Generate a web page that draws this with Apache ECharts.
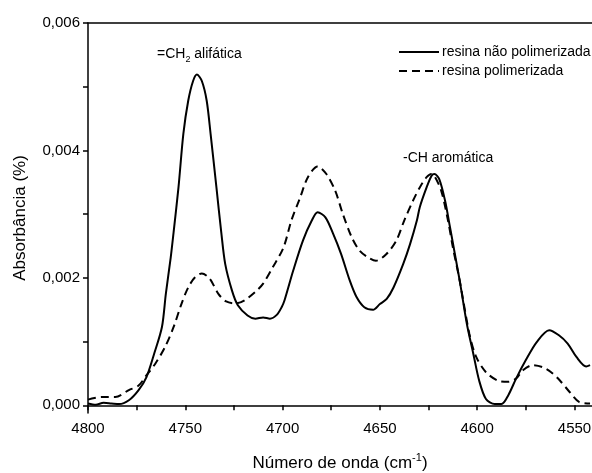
<!DOCTYPE html>
<html>
<head>
<meta charset="utf-8">
<script src="https://cdn.jsdelivr.net/npm/echarts@6/dist/echarts.min.js"></script>
<style>
  html, body { margin: 0; padding: 0; background: #fff; }
  #chart { width: 592px; height: 473px; }
</style>
</head>
<body>
<div id="chart"></div>
<script>
// resina não polimerizada (linha cheia)
const waveA = [4800, 4796, 4792, 4788, 4784, 4779, 4774, 4770, 4766, 4762,
    4760, 4757.5, 4756, 4753.5, 4751, 4748.5, 4746, 4744, 4741.5, 4739,
    4737, 4734, 4731.5, 4729.5, 4726, 4723, 4718, 4714, 4710, 4706.5,
    4703, 4700.5, 4699, 4694.5, 4689.5, 4685, 4682, 4678, 4674, 4670,
    4665.5, 4662, 4658, 4653.5, 4650, 4646.5, 4643, 4638, 4634.5, 4631,
    4629.5, 4626, 4623.5, 4622, 4619.5, 4616.5, 4614, 4611.5, 4609, 4606.5,
    4605, 4602, 4599, 4595.5, 4591, 4587.5, 4584, 4580, 4575, 4569.5,
    4563, 4558, 4553.5, 4549, 4544, 4542]
const absA = [0.00003, 0.00001, 0.00004, 0.00003, 0.00002, 0.00008, 0.00024, 0.00044, 0.00081, 0.00123,
    0.00175, 0.00232, 0.00272, 0.00342, 0.00426, 0.00478, 0.00509, 0.00519, 0.00509, 0.00478,
    0.00426, 0.00342, 0.00271, 0.00222, 0.0018, 0.00157, 0.00141, 0.00136, 0.00138, 0.00136,
    0.00142, 0.00154, 0.00165, 0.00212, 0.00259, 0.0029, 0.00303, 0.00295, 0.00269, 0.00238,
    0.00196, 0.0017, 0.00154, 0.0015, 0.00159, 0.00167, 0.00185, 0.00222, 0.00253, 0.0029,
    0.00311, 0.00342, 0.0036, 0.00363, 0.00355, 0.00321, 0.0028, 0.00238, 0.00196, 0.00149,
    0.00123, 0.00081, 0.00039, 0.0001, 0.00002, 0.00002, 0.00016, 0.00042, 0.00071, 0.00099,
    0.00118, 0.0011, 0.00097, 0.00076, 0.00061, 0.00063]

// resina polimerizada (tracejada)
const waveB = [4800, 4793, 4786, 4779, 4774, 4770, 4765.5, 4760.5, 4756, 4752,
    4748.5, 4745, 4741.5, 4737.5, 4733, 4729, 4724, 4719.5, 4714, 4710,
    4705, 4699.5, 4695.5, 4691, 4687, 4682, 4677.5, 4673, 4669, 4664.5,
    4660.5, 4656, 4652, 4646.5, 4641.5, 4637.5, 4633, 4629.5, 4626, 4623.5,
    4622, 4618.5, 4615, 4612.5, 4609, 4604, 4600.5, 4595.5, 4589.5, 4584,
    4580, 4576.5, 4571.5, 4566.5, 4562, 4557.5, 4552.5, 4547.5, 4542]
const absB = [0.00009, 0.00013, 0.00013, 0.00024, 0.00031, 0.00047, 0.00065, 0.00091, 0.00123, 0.00159,
    0.00185, 0.00201, 0.00207, 0.00199, 0.00175, 0.00163, 0.0016, 0.00165, 0.00178, 0.00191,
    0.00217, 0.00248, 0.0029, 0.00326, 0.00358, 0.00375, 0.00363, 0.00337, 0.003, 0.00264,
    0.00243, 0.00232, 0.00227, 0.00238, 0.00259, 0.0029, 0.00321, 0.00342, 0.00358, 0.00363,
    0.0036, 0.00337, 0.0029, 0.00248, 0.00196, 0.00112, 0.00076, 0.00052, 0.00039, 0.00037,
    0.00042, 0.00055, 0.00063, 0.0006, 0.00052, 0.00039, 0.00021, 0.00005, 0.00003]

// eixos
const xTicks = [4550, 4575, 4600, 4625, 4650, 4675, 4700, 4725, 4750, 4775, 4800]
const xLabels = [4550, 4600, 4650, 4700, 4750, 4800]
const yTicks = [0, 0.001, 0.002, 0.003, 0.004, 0.005, 0.006]
const yLabels = [0, 0.002, 0.004, 0.006]

const font = 'Liberation Sans, Arial, sans-serif'

let myChart = echarts.init(document.getElementById('chart'))

let option = {
    animation: false,
    backgroundColor: '#fff',
    textStyle: { fontFamily: font, color: '#000' },
    grid: { left: 88, top: 23, right: 0, bottom: 60, containLabel: false, outerBoundsMode: 'none' },
    legend: {
        orient: 'vertical',
        left: 393,
        top: 40,
        itemWidth: 40,
        itemHeight: 14,
        itemGap: 5,
        itemStyle: { opacity: 0 },
        textStyle: { fontFamily: font, fontSize: 14, color: '#000', padding: [0, 0, 0, -2] },
        data: ['resina não polimerizada', 'resina polimerizada']
    },
    xAxis: [{
        type: 'value',
        inverse: true,
        min: 4541,
        max: 4800,
        name: '{m|Número de onda (cm}{s|-1}{m|)}',
        nameLocation: 'middle',
        nameGap: 39,
        nameTextStyle: {
            rich: {
                m: { fontFamily: font, fontSize: 17, color: '#000', lineHeight: 22 },
                s: { fontFamily: font, fontSize: 11, color: '#000', lineHeight: 12, verticalAlign: 'top' }
            }
        },
        axisLine: { lineStyle: { color: '#000', width: 1.5 } },
        axisTick: { customValues: xTicks, length: 5, lineStyle: { color: '#000', width: 1.5 } },
        axisLabel: { customValues: xLabels, fontSize: 15, color: '#000', margin: 8, formatter: v => String(v) },
        splitLine: { show: false }
    }, {
        type: 'value',
        inverse: true,
        position: 'top',
        min: 4541,
        max: 4800,
        axisLine: { show: true, lineStyle: { color: '#000', width: 1.5 } },
        axisTick: { show: false },
        axisLabel: { show: false },
        splitLine: { show: false }
    }],
    yAxis: {
        type: 'value',
        min: -0.00012,
        max: 0.006,
        name: 'Absorbância (%)',
        nameLocation: 'middle',
        nameGap: 59,
        nameTextStyle: { fontFamily: font, fontSize: 17, color: '#000' },
        axisLine: { show: true, lineStyle: { color: '#000', width: 1.5 } },
        axisTick: { customValues: yTicks, length: 5, lineStyle: { color: '#000', width: 1.5 } },
        axisLabel: {
            customValues: yLabels,
            fontSize: 15,
            color: '#000',
            margin: 8,
            formatter: v => v.toFixed(3).replace('.', ',')
        },
        splitLine: { show: false }
    },
    graphic: [{
        type: 'text',
        left: 157,
        top: 47,
        style: {
            text: '{m|=CH}{s|2}{m| alifática}',
            rich: {
                m: { fontFamily: font, fontSize: 14, fill: '#000', lineHeight: 20 },
                s: { fontFamily: font, fontSize: 9, fill: '#000', lineHeight: 10, verticalAlign: 'bottom' }
            }
        }
    }, {
        type: 'text',
        left: 403,
        top: 151,
        style: { text: '-CH aromática', font: '14px ' + font, fill: '#000' }
    }],
    series: [{
        name: 'resina não polimerizada',
        type: 'line',
        data: waveA.map((w, i) => [w, absA[i]]),
        showSymbol: false,
        symbol: 'none',
        smooth: 0.3,
        lineStyle: { color: '#000', width: 2 },
        itemStyle: { color: '#000' }
    }, {
        name: 'resina polimerizada',
        type: 'line',
        data: waveB.map((w, i) => [w, absB[i]]),
        showSymbol: false,
        symbol: 'none',
        smooth: 0.3,
        lineStyle: { color: '#000', width: 2, type: [8, 5] },
        itemStyle: { color: '#000' }
    }]
}

myChart.setOption(option)
</script>
</body>
</html>
